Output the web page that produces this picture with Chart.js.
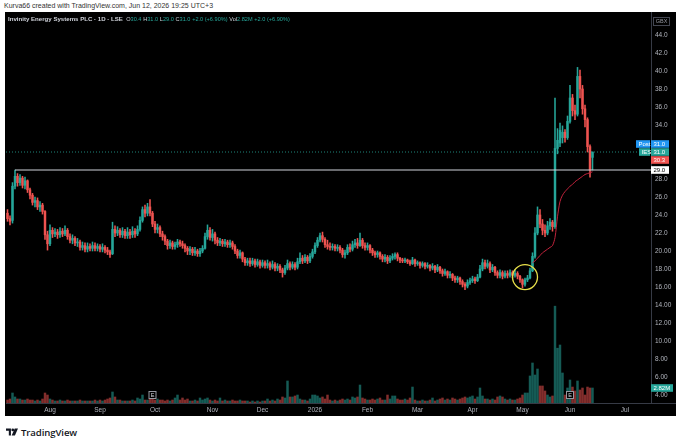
<!DOCTYPE html>
<html><head><meta charset="utf-8">
<script src="https://cdn.jsdelivr.net/npm/chart.js@4.4.1/dist/chart.umd.min.js"></script>
<style>
html,body{margin:0;padding:0;background:#fff;width:680px;height:445px;overflow:hidden;font-family:"Liberation Sans",Arial,sans-serif}
#cap{position:absolute;left:4px;top:1px;font-size:7px;line-height:9px;color:#333;white-space:nowrap}
#panel{position:absolute;left:5px;top:12px;width:671px;height:404px;background:#000}
#c{position:absolute;left:0;top:0;width:671px;height:404px}
#hdr{position:absolute;left:3px;top:3px;font-size:6.1px;line-height:7px;color:#d1d4dc;white-space:nowrap;font-weight:bold}
#hdr .v{color:#26a69a;font-weight:normal;font-size:5.6px}
#hdr .k{font-weight:normal;color:#d1d4dc;font-size:5.6px}
#foot{position:absolute;left:6px;top:426px;height:12px;display:flex;align-items:center;gap:3px}
#foot span{font-family:"Open Sans","Liberation Sans",sans-serif;font-weight:600;font-size:9.6px;color:#131722;letter-spacing:-0.1px}
</style></head>
<body>
<div id="cap">Kurva66 created with TradingView.com, Jun 12, 2026 19:25 UTC+3</div>
<div id="panel">
<canvas id="c" width="671" height="404"></canvas>
<div id="hdr">Invinity Energy Systems PLC · 1D · LSE&nbsp; <span class="k">O</span><span class="v">30.4</span> <span class="k">H</span><span class="v">31.0</span> <span class="k">L</span><span class="v">29.0</span> <span class="k">C</span><span class="v">31.0</span> <span class="v">+2.0 (+6.90%)</span> <span class="k">Vol</span><span class="v">2.82M</span> <span class="v">+2.0 (+6.90%)</span></div>
</div>
<div id="foot"><svg width="12" height="8" viewBox="0 0 17 10"><path d="M0 0H7V10H4V3.2H0Z" fill="#131722"/><circle cx="9.6" cy="2" r="2" fill="#131722"/><path d="M12.4 0H17L12.6 10H8Z" fill="#131722"/></svg><span>TradingView</span></div>
<script>
// ---- data (daily candles, Jul 9 2025 .. Jun 12 2026, LSE trading days) ----
const open = [
24.2,23.6,23.4,27.2,28.3,27.6,28.1,27.3,27.8,26.8,
26.2,25.4,25.6,24.9,25.1,24.4,21.8,20.8,22.3,21.9,
22.1,21.8,22.2,21.9,22.3,21.6,21.2,21.4,20.9,21.0,
20.4,20.6,20.2,20.5,20.3,20.6,20.3,20.5,20.2,20.4,
20.1,19.9,19.7,22.4,22.0,22.3,21.8,22.2,21.7,22.1,
21.8,22.2,21.9,22.4,23.4,24.6,24.2,24.9,24.2,23.0,
22.4,22.6,21.9,21.6,21.1,20.6,20.9,20.5,20.7,21.0,
20.8,20.6,20.3,20.0,20.2,19.8,20.0,19.7,20.0,20.3,
21.6,22.3,21.5,21.9,21.2,20.9,21.1,20.8,21.0,20.7,
20.9,20.5,20.0,19.5,19.8,19.1,18.7,18.9,18.6,18.9,
18.5,18.8,18.4,18.7,18.4,18.6,18.2,18.5,18.1,18.3,
17.9,17.6,18.1,18.6,18.2,18.5,18.2,18.8,19.2,18.9,
19.3,18.9,19.4,19.9,20.6,21.2,21.7,21.3,20.7,20.5,
20.4,20.5,20.3,20.4,20.1,19.6,19.8,20.4,20.2,20.7,
20.9,20.6,21.2,20.6,20.4,20.6,20.1,19.8,19.6,19.8,
19.4,19.1,19.3,18.9,19.2,19.4,19.6,19.2,19.0,18.9,
19.0,18.8,18.6,19.0,18.6,18.7,18.4,18.6,18.3,18.4,
18.1,18.3,17.9,18.2,17.8,17.5,17.7,17.3,17.4,17.0,
16.8,17.0,16.6,16.3,16.1,16.5,16.7,16.9,16.7,17.1,
18.0,18.7,18.3,18.6,17.9,18.2,17.6,17.3,17.6,17.2,
17.5,17.3,17.6,17.3,17.5,17.2,16.8,16.3,16.8,17.0,
17.8,19.4,22.0,24.0,23.0,22.3,22.0,22.8,23.2,22.7,
31.4,32.0,32.6,33.2,32.6,34.4,37.0,35.6,35.2,39.4,
38.0,35.8,34.6,31.6,30.4];
const high = [
24.6,23.9,27.6,29.0,28.6,28.5,28.3,28.2,27.9,27.0,
26.4,26.0,25.9,25.5,25.3,24.5,22.2,22.9,22.6,22.5,
22.4,22.6,22.5,22.8,22.5,21.9,21.8,21.6,21.4,21.2,
21.0,20.9,20.9,20.8,21.0,20.9,20.8,20.7,20.8,20.6,
20.4,20.1,23.2,22.8,22.7,22.5,22.6,22.4,22.6,22.4,
22.7,22.5,22.8,23.8,24.9,25.1,25.3,25.7,24.4,23.3,
23.0,22.8,22.2,21.8,21.3,21.2,21.1,21.0,21.3,21.2,
21.1,20.8,20.5,20.5,20.4,20.4,20.2,20.3,20.6,22.0,
22.9,22.6,22.4,22.1,21.5,21.4,21.3,21.3,21.2,21.2,
21.1,20.7,20.2,20.1,19.9,19.3,19.2,19.2,19.2,19.1,
19.1,19.0,19.0,18.9,19.0,18.8,18.9,18.7,18.6,18.5,
18.1,18.4,19.0,18.8,18.8,18.7,19.2,19.8,19.5,19.6,
19.5,19.7,20.2,20.9,21.5,22.0,22.1,21.5,21.2,20.9,
20.8,20.7,20.7,20.6,20.3,20.1,20.7,20.8,21.1,21.3,
21.4,22.0,21.4,20.9,20.9,20.7,20.3,20.0,20.0,19.9,
19.6,19.6,19.5,19.5,19.7,19.8,19.8,19.3,19.2,19.2,
19.1,19.0,19.3,19.1,18.9,18.8,18.8,18.7,18.7,18.5,
18.6,18.4,18.5,18.3,18.0,18.0,17.8,17.7,17.5,17.2,
17.2,17.1,16.8,16.5,16.8,17.0,17.2,17.1,17.4,18.4,
19.1,19.0,19.0,18.8,18.5,18.3,17.8,17.9,17.8,17.8,
17.8,17.9,17.8,17.9,17.7,17.3,16.9,17.0,17.3,18.1,
19.8,22.6,24.9,24.6,23.5,22.9,23.3,23.6,23.4,37.0,
33.6,34.2,33.9,33.5,35.0,38.4,37.4,36.2,40.4,40.1,
38.4,36.2,34.8,31.8,31.0];
const low = [
23.3,22.9,23.1,26.9,27.2,27.3,27.0,26.9,26.5,25.8,
25.1,24.9,24.6,24.4,24.1,21.3,20.1,20.6,21.5,21.6,
21.4,21.5,21.6,21.7,21.3,20.9,20.8,20.6,20.5,20.1,
20.1,19.9,19.9,20.0,20.0,20.0,20.0,19.9,19.9,19.8,
19.6,19.3,19.6,21.6,21.7,21.5,21.5,21.4,21.4,21.4,
21.5,21.5,21.7,22.2,23.2,23.8,23.9,23.9,22.7,22.0,
22.0,21.6,21.2,20.7,20.2,20.3,20.2,20.2,20.4,20.5,
20.3,19.9,19.6,19.6,19.5,19.5,19.4,19.4,19.8,20.2,
21.3,21.2,21.1,20.8,20.6,20.6,20.5,20.5,20.4,20.4,
20.2,19.7,19.2,19.2,18.8,18.4,18.4,18.3,18.4,18.2,
18.3,18.1,18.2,18.1,18.1,17.9,18.0,17.8,17.8,17.6,
17.1,17.4,17.9,17.9,18.0,17.9,18.0,18.6,18.6,18.7,
18.6,18.7,19.2,19.7,20.4,21.0,21.0,20.4,20.2,20.1,
20.1,20.0,20.0,19.8,19.3,19.2,19.6,19.9,20.0,20.4,
20.3,20.5,20.3,20.1,20.1,19.8,19.5,19.3,19.3,19.1,
18.8,18.8,18.6,18.7,19.0,19.1,18.9,18.7,18.7,18.7,
18.6,18.4,18.5,18.3,18.4,18.1,18.2,18.0,18.1,17.8,
17.9,17.6,17.7,17.5,17.2,17.3,17.0,17.0,16.7,16.5,
16.5,16.3,16.0,15.7,15.9,16.3,16.5,16.4,16.6,17.0,
17.8,18.0,18.1,17.6,17.7,17.3,17.0,17.0,16.9,17.0,
17.0,17.1,17.0,17.1,16.9,16.5,15.9,16.1,16.6,16.9,
17.7,19.2,21.8,22.6,21.8,21.6,21.8,22.4,22.2,22.5,
30.8,31.6,32.0,32.1,32.4,34.2,35.0,34.6,35.0,37.0,
35.2,33.8,31.0,28.2,29.0];
const close = [
23.6,23.3,27.2,28.3,27.6,28.1,27.3,27.8,26.8,26.2,
25.4,25.6,24.9,25.1,24.4,21.8,20.8,22.3,21.9,22.1,
21.8,22.2,21.9,22.3,21.6,21.2,21.4,20.9,21.0,20.4,
20.6,20.2,20.5,20.3,20.6,20.3,20.5,20.2,20.4,20.1,
19.9,19.6,22.4,22.0,22.3,21.8,22.2,21.7,22.1,21.8,
22.2,21.9,22.4,23.4,24.6,24.2,24.9,24.2,23.0,22.4,
22.6,21.9,21.6,21.1,20.6,20.9,20.5,20.7,21.0,20.8,
20.6,20.3,20.0,20.2,19.8,20.0,19.7,20.0,20.3,21.6,
22.3,21.5,21.9,21.2,20.9,21.1,20.8,21.0,20.7,20.9,
20.5,20.0,19.5,19.8,19.1,18.7,18.9,18.6,18.9,18.5,
18.8,18.4,18.7,18.4,18.6,18.2,18.5,18.1,18.3,17.9,
17.6,18.1,18.6,18.2,18.5,18.2,18.8,19.2,18.9,19.3,
18.9,19.4,19.9,20.6,21.2,21.7,21.3,20.7,20.5,20.4,
20.5,20.3,20.4,20.1,19.6,19.8,20.4,20.2,20.7,20.9,
20.6,21.2,20.6,20.4,20.6,20.1,19.8,19.6,19.8,19.4,
19.1,19.3,18.9,19.2,19.4,19.6,19.2,19.0,18.9,19.0,
18.8,18.6,19.0,18.6,18.7,18.4,18.6,18.3,18.4,18.1,
18.3,17.9,18.2,17.8,17.5,17.7,17.3,17.4,17.0,16.8,
17.0,16.6,16.3,16.1,16.5,16.7,16.9,16.7,17.1,18.0,
18.7,18.3,18.6,17.9,18.2,17.6,17.3,17.6,17.2,17.5,
17.3,17.6,17.3,17.5,17.2,16.8,16.3,16.8,17.0,17.8,
19.4,22.0,24.0,23.0,22.3,22.0,22.8,23.2,22.7,31.4,
32.3,33.4,33.2,32.6,34.4,37.0,35.6,35.2,39.4,38.0,
35.8,34.6,31.6,29.0,31.0];
// volume, millions of shares
const volume = [
0.56,0.75,1.88,1.13,0.75,0.75,0.56,0.56,0.75,0.56,
0.56,0.38,0.56,0.38,0.75,1.88,1.5,0.75,0.56,0.38,
0.38,0.56,0.38,0.38,0.56,0.38,0.38,0.38,0.38,0.56,
0.38,0.38,0.38,0.38,0.38,0.56,0.38,0.56,0.38,0.56,
0.75,0.94,2.07,1.13,0.56,0.56,0.38,0.38,0.38,0.38,
0.56,0.38,0.94,0.75,1.5,0.56,0.56,0.75,0.75,0.56,
0.75,0.56,0.56,0.38,0.56,0.38,0.56,0.94,1.5,0.56,
0.94,0.56,0.75,0.38,0.38,0.56,0.38,0.94,0.56,0.75,
0.94,0.56,0.38,0.56,0.38,0.94,0.38,0.56,0.38,0.38,
0.56,0.38,0.38,0.56,0.38,0.38,0.38,0.19,0.38,0.19,
0.38,0.19,0.38,0.38,0.75,0.38,0.56,0.38,0.75,0.56,
1.13,0.94,4.14,1.13,1.13,1.32,1.5,0.75,0.56,0.56,
0.38,0.75,1.5,1.5,1.32,0.94,1.13,0.75,1.5,0.56,
0.38,0.56,0.38,0.56,0.75,0.56,0.75,0.56,1.13,0.94,
1.13,3.38,0.94,0.75,0.56,0.56,0.75,0.56,0.75,0.94,
0.56,0.56,1.5,0.75,1.32,1.32,0.75,0.56,0.56,0.75,
0.56,0.94,3.0,0.56,0.38,0.38,0.56,0.38,0.38,0.56,
0.94,0.38,0.56,0.75,0.94,0.56,0.75,0.56,0.94,0.75,
0.56,0.75,0.94,1.13,0.94,1.13,1.32,0.75,1.13,2.82,
1.32,0.75,0.75,0.56,0.75,0.56,1.13,1.32,1.13,0.75,
0.56,0.75,0.56,0.56,0.75,0.94,1.5,1.88,1.88,5.08,
7.52,5.26,6.39,3.2,3.2,2.26,1.5,1.13,1.32,18.2,
10.3,10.9,5.64,1.5,2.82,4.32,3.0,2.26,4.14,2.44,
2.82,1.5,3.0,2.82,2.82];
// anchored line (from May breakout)
const anchorIndex = 210;
const anchoredLine = [18.7,18.9,19.2,19.5,19.8,20.0,20.2,20.4,20.6,21.5,23.8,25.5,26.2,26.6,26.9,27.2,27.4,27.7,27.9,28.1,28.3,28.5,28.6,28.7,28.8];
// axis ticks
const monthTickIndex = [17,37,59,82,102,123,144,164,186,206,225,247];
const monthLabels = ['Aug','Sep','Oct','Nov','Dec','2026','Feb','Mar','Apr','May','Jun','Jul'];
const priceTicks = [4,6,8,10,12,14,16,18,20,22,24,26,28,34,36,38,40,42,44];
// annotations
const rayStartIndex = 3, rayLevel = 29.0;
const lastPrice = 31.0, postPrice = 31.0, lineLastValue = 30.3, lastVolumeLabel = '2.82M';
const earningsIndex = [58,225];
const circleIndex = 207, circlePrice = 17.1;
const currency = 'GBX', tickerShort = 'IES';

// ---- chart ----
const UP = '#26a69a', DN = '#ef5350', BLUE = '#2196f3';
const idx = close.map((_, i) => i);
const isUp = idx.map(i => close[i] >= open[i]);
const cCol = isUp.map(u => u ? UP : DN);
const vCol = isUp.map(u => u ? 'rgba(38,166,154,0.55)' : 'rgba(239,83,80,0.55)');
const X_MIN = -0.6, X_MAX = 257.4;

function tag(ctx, x, yc, w, h, bg, fg, text) {
  ctx.fillStyle = bg;
  ctx.fillRect(x, yc - h / 2, w, h);
  ctx.fillStyle = fg;
  ctx.font = '6px "Liberation Sans", Arial, sans-serif';
  ctx.textBaseline = 'middle';
  ctx.textAlign = 'left';
  ctx.fillText(text, x + 2.5, yc + 0.3);
}

const overlay = {
  id: 'overlay',
  afterDraw(chart) {
    const { ctx, chartArea: ca, scales } = chart;
    const x = scales.x, y = scales.y, yv = scales.yv;
    ctx.save();
    ctx.strokeStyle = '#363a45'; ctx.lineWidth = 1;
    ctx.beginPath(); ctx.moveTo(ca.right, ca.bottom + 0.5); ctx.lineTo(chart.width, ca.bottom + 0.5); ctx.stroke();
    // earnings markers
    earningsIndex.forEach(i => {
      const px = x.getPixelForValue(i), py = ca.bottom - 8;
      ctx.fillStyle = '#000'; ctx.fillRect(px - 4, py - 4, 8, 8);
      ctx.strokeStyle = '#9598a1'; ctx.lineWidth = 1; ctx.strokeRect(px - 3.5, py - 3.5, 7, 7);
      ctx.fillStyle = '#d1d4dc'; ctx.font = '5.5px "Liberation Sans", Arial'; ctx.textAlign = 'center'; ctx.textBaseline = 'middle';
      ctx.fillText('E', px, py + 0.3);
    });
    // currency box
    ctx.strokeStyle = '#434651'; ctx.strokeRect(ca.right + 2.5, 5.5, 16, 8);
    ctx.fillStyle = '#9598a1'; ctx.font = '5.5px "Liberation Sans", Arial'; ctx.textAlign = 'center'; ctx.textBaseline = 'middle';
    ctx.fillText(currency, ca.right + 10.5, 9.8);
    // price tags
    const yl = y.getPixelForValue(lastPrice);
    const W = 18, H = 7.6;
    tag(ctx, ca.right, yl - 8, W, H, BLUE, '#fff', postPrice.toFixed(1));
    tag(ctx, ca.right - 15, yl - 8, 14, H, BLUE, '#fff', 'Post');
    tag(ctx, ca.right, yl, W, H, UP, '#fff', lastPrice.toFixed(1));
    tag(ctx, ca.right - 12, yl, 11, H, UP, '#fff', tickerShort);
    const yr = Math.max(y.getPixelForValue(lineLastValue), yl + 8);
    tag(ctx, ca.right, yr, W, H, DN, '#fff', lineLastValue.toFixed(1));
    tag(ctx, ca.right, y.getPixelForValue(rayLevel), W, H, '#ffffff', '#000', rayLevel.toFixed(1));
    tag(ctx, ca.right, yv.getPixelForValue(volume[volume.length - 1]), 22, H, UP, '#fff', lastVolumeLabel);
    ctx.restore();
  }
};

function noPad(s) { s.paddingTop = 0; s.paddingBottom = 0; s.paddingLeft = 0; s.paddingRight = 0; }

new Chart(document.getElementById('c'), {
  type: 'bar',
  data: {
    datasets: [
      { type: 'line', data: anchoredLine.map((v, k) => ({ x: anchorIndex + k, y: v })), borderColor: '#c2233c', borderWidth: 1, pointRadius: 0, tension: 0.3, order: 0 },
      { type: 'line', data: [{ x: circleIndex, y: circlePrice }], showLine: false, pointRadius: 12.5, pointBorderWidth: 1.3, pointBorderColor: '#e8e04a', pointBackgroundColor: 'rgba(0,0,0,0)', order: 0 },
      { type: 'line', data: [{ x: rayStartIndex, y: rayLevel }, { x: X_MAX, y: rayLevel }], borderColor: '#d1d4dc', borderWidth: 1, pointRadius: 0, order: 0 },
      { type: 'line', data: [{ x: X_MIN, y: lastPrice }, { x: X_MAX, y: lastPrice }], borderColor: 'rgba(38,166,154,0.8)', borderWidth: 1, borderDash: [1, 2], pointRadius: 0, order: 3 },
      { label: 'body', data: idx.map(i => ({ x: i, y: [open[i], close[i]] })), backgroundColor: cCol, barThickness: 1.8, minBarLength: 1, grouped: false, order: 1 },
      { label: 'wick', data: idx.map(i => ({ x: i, y: [low[i], high[i]] })), backgroundColor: cCol, barThickness: 0.9, grouped: false, order: 2 },
      { label: 'volume', data: idx.map(i => ({ x: i, y: volume[i] })), backgroundColor: vCol, barThickness: 1.8, grouped: false, yAxisID: 'yv', order: 5 }
    ]
  },
  options: {
    responsive: false, animation: false, devicePixelRatio: 1,
    layout: { autoPadding: false, padding: { left: 1, right: 0, top: 0, bottom: 0 } },
    plugins: { legend: { display: false }, tooltip: { enabled: false } },
    scales: {
      x: {
        type: 'linear', min: X_MIN, max: X_MAX, offset: false,
        grid: { display: false, offset: false, drawTicks: false },
        border: { display: true, color: '#363a45', width: 1 },
        afterBuildTicks: s => { s.ticks = monthTickIndex.map(v => ({ value: v })); },
        afterFit: s => { s.height = 13; noPad(s); },
        ticks: { color: '#b2b5be', font: { size: 6.5, family: '"Liberation Sans", Arial' }, padding: 3, maxRotation: 0, autoSkip: false,
          callback: v => monthLabels[monthTickIndex.indexOf(v)] }
      },
      y: {
        type: 'linear', position: 'right', min: 3.111, max: 46.556,
        grid: { display: false, drawTicks: false },
        border: { display: true, color: '#363a45', width: 1 },
        afterBuildTicks: s => { s.ticks = priceTicks.map(v => ({ value: v })); },
        afterFit: s => { s.width = 25; noPad(s); },
        ticks: { color: '#b2b5be', font: { size: 6.5, family: '"Liberation Sans", Arial' }, padding: 4, autoSkip: false,
          callback: v => v >= 22 ? v.toFixed(1) : v.toFixed(2) }
      },
      yv: { type: 'linear', display: false, min: 0, max: 73.5 }
    }
  },
  plugins: [overlay]
});
</script>
</body></html>
